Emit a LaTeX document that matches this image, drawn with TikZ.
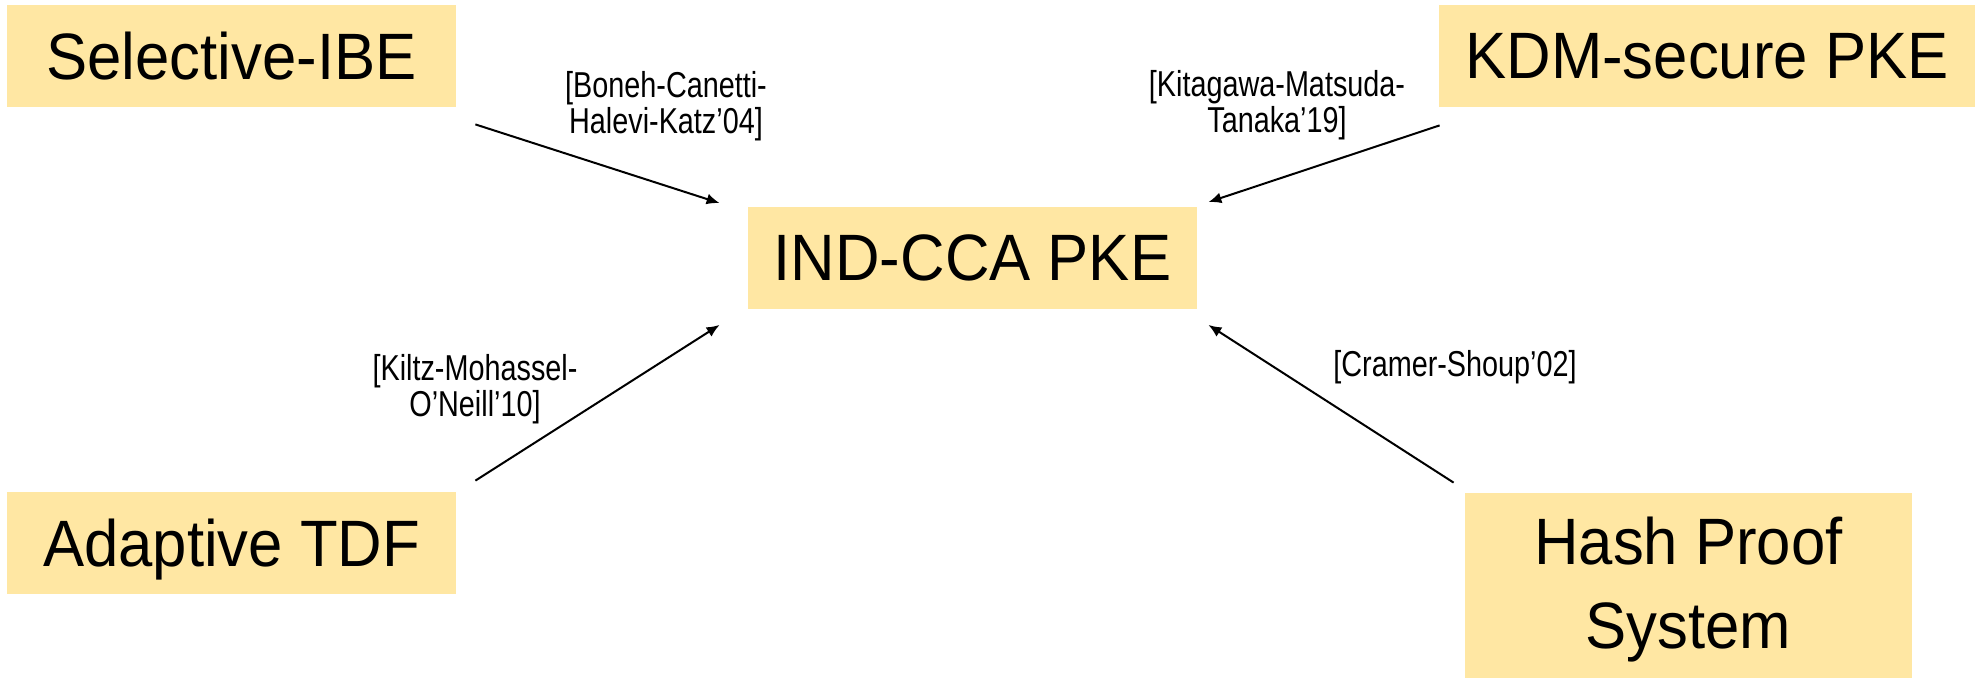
\documentclass[tikz,border=0pt]{standalone}
\usepackage{fontspec}
\setmainfont{Liberation Sans}
\newfontfamily\conceptfont{Liberation Sans}[FakeStretch = 0.94]
\newfontfamily\citefont{Liberation Sans}[FakeStretch = 0.8]
\usetikzlibrary{arrows.meta}
\definecolor{boxfill}{HTML}{FFE7A3}

\tikzstyle{concept} = [rectangle, fill = boxfill, text centered, align = center, inner sep = 0pt, minimum width = 224.5pt, minimum height = 51pt, font = \conceptfont\fontsize{32.8}{42}\selectfont]
\tikzstyle{cite} = [align = center, inner sep = 0pt, font = \citefont\fontsize{18}{16.5}\selectfont]
\tikzstyle{arrow} = [line width = 1pt, -{Latex[length = 6.5pt, width = 5.5pt]}]

\begin{document}
\begin{tikzpicture}[x = 0.5pt, y = -0.5pt]

    \useasboundingbox (0,0) rectangle (1981,677);

    \node(ind)[concept] at (972.5,257.5) {IND-CCA PKE};
    \node(sel)[concept] at (231.5,56) {Selective-IBE};
    \node(kdm)[concept, minimum width = 268pt] at (1707,56) {KDM-secure PKE};
    \node(adp)[concept, text depth = 0pt] at (231.5,543) {Adaptive TDF};
    \node(hps)[concept, minimum width = 223.5pt, minimum height = 97pt] at (1688.5,590) {Hash Proof\\System};

    \node(bchk)[cite] at (666,106) {[Boneh-Canetti-\\Halevi-Katz’04]};
    \node(kmt)[cite] at (1277,105) {[Kitagawa-Matsuda-\\Tanaka’19]};
    \node(kmo)[cite] at (475,389) {[Kiltz-Mohassel-\\O’Neill’10]};
    \node(cs)[cite] at (1455,367) {[Cramer-Shoup’02]};

    \draw[arrow]([xshift = 9.5pt, yshift = -8.5pt]sel.south east) -- ([xshift = -14pt, yshift = 1.5pt]ind.north west);
    \draw[arrow]([xshift = 0.5pt, yshift = -9pt]kdm.south west) -- ([xshift = 5.5pt, yshift = 2pt]ind.north east);
    \draw[arrow]([xshift = 9.5pt, yshift = 5.5pt]adp.north east) -- ([xshift = -14pt, yshift = -8pt]ind.south west);
    \draw[arrow]([xshift = -5.5pt, yshift = 5pt]hps.north west) -- ([xshift = 5.5pt, yshift = -8pt]ind.south east);

\end{tikzpicture}
\end{document}
